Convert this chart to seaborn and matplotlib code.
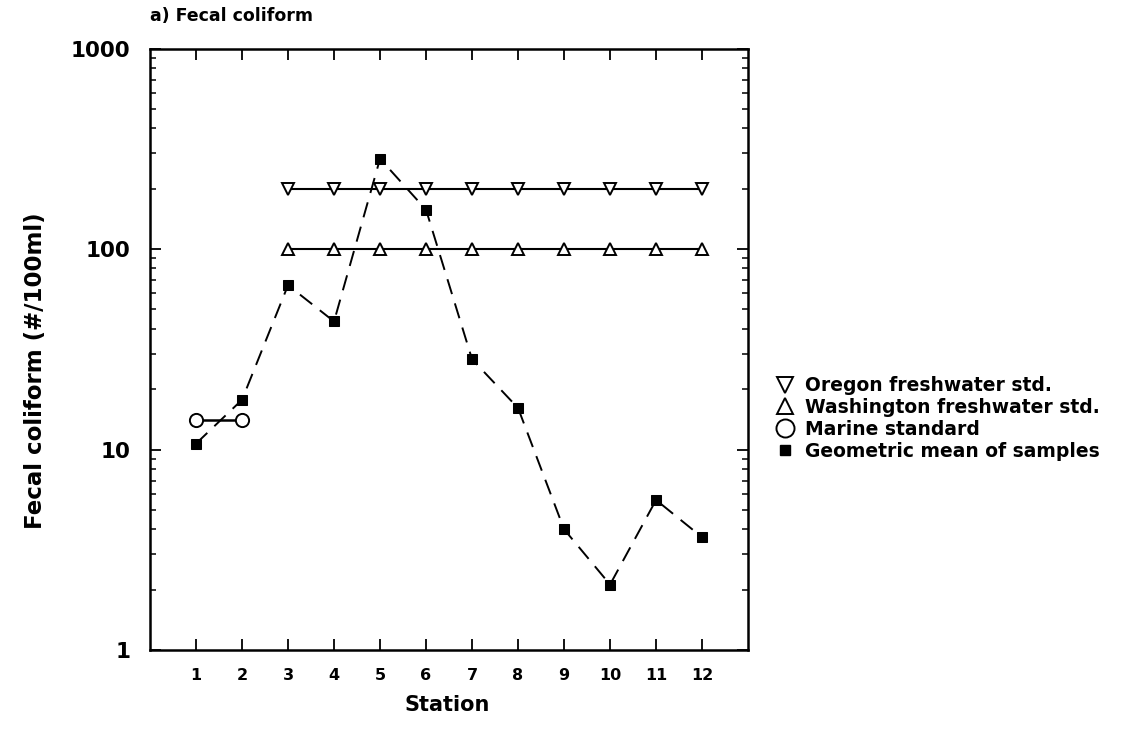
import matplotlib
matplotlib.use("Agg")
import matplotlib.pyplot as plt
import seaborn as sns
import pandas as pd
import numpy as np
from matplotlib.lines import Line2D
from matplotlib.ticker import LogLocator, FixedLocator, NullFormatter

# ---- data ----
stations = [1, 2, 3, 4, 5, 6, 7, 8, 9, 10, 11, 12]
geo_mean = [10.7, 17.7, 66, 43.5, 282, 157, 28.2, 16.1, 4.0, 2.12, 5.6, 3.65]
oregon_stations = [3, 4, 5, 6, 7, 8, 9, 10, 11, 12]
oregon_std = [200] * 10
wash_stations = [3, 4, 5, 6, 7, 8, 9, 10, 11, 12]
wash_std = [100] * 10
marine_stations = [1, 2]
marine_std = [14, 14]
legend_labels = ["Oregon freshwater std.", "Washington freshwater std.",
                 "Marine standard", "Geometric mean of samples"]
y_ticks = [1, 10, 100, 1000]

sns.set_style("ticks")
plt.rcParams['font.family'] = ['DejaVu Sans']
plt.rcParams['font.weight'] = 'bold'
for k in ['text.color', 'axes.labelcolor', 'xtick.color', 'ytick.color', 'axes.edgecolor']:
    plt.rcParams[k] = 'black'

fig = plt.figure(figsize=(11.4, 7.42), dpi=100)
ax = fig.add_axes([0.1316, 0.124, 0.5246, 0.8106])

df_or = pd.DataFrame({"x": oregon_stations, "y": oregon_std})
df_wa = pd.DataFrame({"x": wash_stations, "y": wash_std})
df_ma = pd.DataFrame({"x": marine_stations, "y": marine_std})
df_gm = pd.DataFrame({"x": stations, "y": geo_mean})

sns.lineplot(data=df_or, x="x", y="y", ax=ax, color="black", lw=1.5,
             marker="v", markersize=8, markerfacecolor="white",
             markeredgecolor="black", markeredgewidth=1.4)
sns.lineplot(data=df_wa, x="x", y="y", ax=ax, color="black", lw=1.5,
             marker="^", markersize=8, markerfacecolor="white",
             markeredgecolor="black", markeredgewidth=1.4)
sns.lineplot(data=df_ma, x="x", y="y", ax=ax, color="black", lw=1.8,
             marker="o", markersize=9.5, markerfacecolor="white",
             markeredgecolor="black", markeredgewidth=1.4)
sns.lineplot(data=df_gm, x="x", y="y", ax=ax, color="black", lw=1.4,
             marker="s", markersize=7, markerfacecolor="black",
             markeredgecolor="black", dashes=False, linestyle=(0, (8, 5)))

ax.set_yscale("log")
ax.set_ylim(1, 1000)
ax.set_xlim(0, 13)
ax.set_xticks(stations)
ax.set_xticklabels([str(s) for s in stations], fontsize=11.5, fontweight='bold')
ax.yaxis.set_major_locator(FixedLocator(y_ticks))
ax.set_yticklabels([str(t) for t in y_ticks], fontsize=15.5, fontweight='bold')
ax.yaxis.set_minor_locator(LogLocator(base=10, subs=np.arange(2, 10)))
ax.yaxis.set_minor_formatter(NullFormatter())

ax.tick_params(axis='both', which='major', direction='in', top=True, right=True,
               length=8, width=1.3, color='black', pad=14)
ax.tick_params(axis='y', which='minor', direction='in', left=True, right=True,
               length=4.5, width=1.1, color='black')
ax.tick_params(axis='x', which='major', pad=13)
for s in ax.spines.values():
    s.set_visible(True)
    s.set_linewidth(1.8)
    s.set_color('black')

ax.set_xlabel("Station", fontsize=15, fontweight='bold')
ax.xaxis.set_label_coords(0.497, -0.091)
ax.xaxis.label.set_verticalalignment('center')
ax.set_ylabel("Fecal coliform (#/100ml)", fontsize=16.5, fontweight='bold')
ax.yaxis.set_label_coords(-0.192, 0.465)
ax.yaxis.label.set_verticalalignment('center')
ax.set_title("a) Fecal coliform", loc='left', fontsize=12.5, fontweight='bold', pad=20)
ax.grid(False)

handles = [
    Line2D([], [], ls='none', marker='v', markersize=11, mfc='white', mec='black', mew=1.4),
    Line2D([], [], ls='none', marker='^', markersize=11, mfc='white', mec='black', mew=1.4),
    Line2D([], [], ls='none', marker='o', markersize=13, mfc='white', mec='black', mew=1.4),
    Line2D([], [], ls='none', marker='s', markersize=7.5, mfc='black', mec='black'),
]
fig.legend(handles, legend_labels, loc='upper left', bbox_to_anchor=(0.679, 0.493),
           frameon=False, prop={'size': 13.5, 'weight': 'bold'},
           handletextpad=0.45, labelspacing=0.15, handlelength=1.2, borderaxespad=0,
           borderpad=0)

fig.savefig("out.png", dpi=100)
